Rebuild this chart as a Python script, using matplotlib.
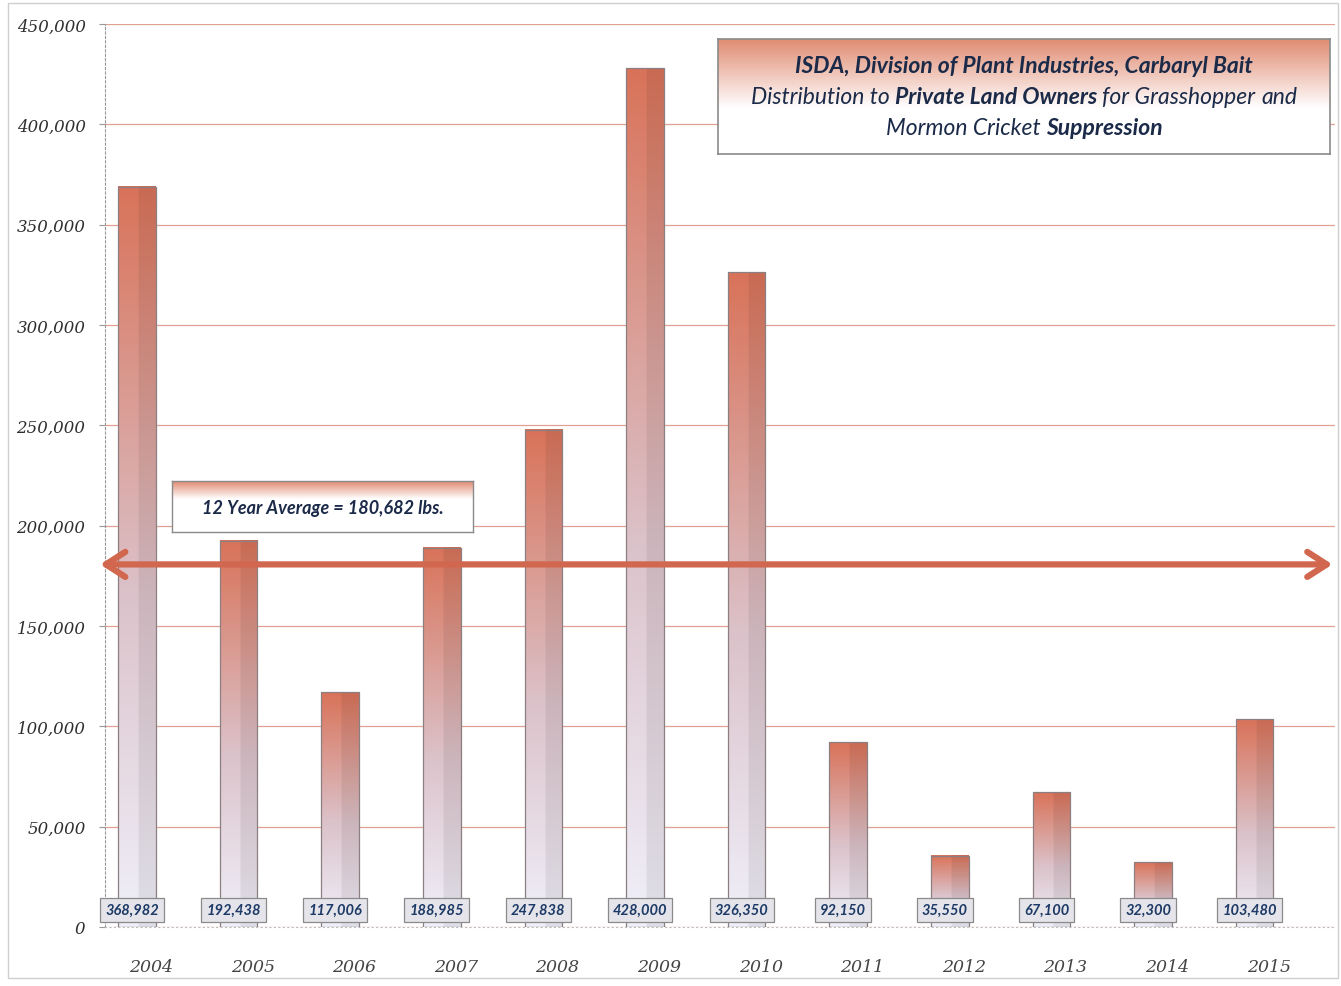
import matplotlib
matplotlib.use("Agg")
import matplotlib.pyplot as plt
import matplotlib.transforms as mtransforms
from matplotlib.patches import Rectangle
import numpy as np

years = ['2004', '2005', '2006', '2007', '2008', '2009',
         '2010', '2011', '2012', '2013', '2014', '2015']
pounds = [368982, 192438, 117006, 188985, 247838, 428000,
          326350, 92150, 35550, 67100, 32300, 103480]
average = 180682
yticks = [0, 50000, 100000, 150000, 200000, 250000, 300000, 350000, 400000, 450000]

# title lines as (text, bold) pieces
title_lines = [
    [('ISDA, Division of Plant Industries, Carbaryl Bait', True)],
    [('Distribution to ', False), ('Private Land Owners ', True),
     ('for Grasshopper ', False), ('and', False)],
    [('Mormon Cricket ', False), ('Suppression', True)],
]
avg_text = '12 Year Average = 180,682 lbs.'

salmon = np.array([0.85, 0.45, 0.35])
navy = '#1b2a48'


def bar_gradient(ny=200, nx=24):
    # vertical salmon -> lavender-white, right side a little darker
    bottom = np.array([0.94, 0.94, 0.98])
    mid = np.array([0.86, 0.76, 0.79])
    img = np.zeros((ny, nx, 3))
    for i, tv in enumerate(np.linspace(0, 1, ny)):
        if tv < 0.45:
            c = bottom + (mid - bottom) * (tv / 0.45)
        else:
            c = mid + (salmon - mid) * ((tv - 0.45) / 0.55)
        img[i, :, :] = c
    shade = np.ones(nx)
    shade[int(nx * 0.55):] = 0.93
    img = img * shade[None, :, None]
    return np.clip(img[::-1], 0, 1)   # row 0 at top


def box_gradient(ny=100, fade=0.6):
    t = np.linspace(0, 1, ny)[:, None]          # 0 top, 1 bottom
    white = np.array([1.0, 1.0, 1.0])
    top = np.array([0.88, 0.55, 0.45])
    img = top + (white - top) * np.clip(t / fade, 0, 1)
    return img[:, None, :].repeat(4, axis=1)


def rich_line(axh, y, pieces, **kw):
    # lay pieces out left to right, then centre the whole line
    r = fig.canvas.get_renderer()
    texts, widths = [], []
    for s, bold in pieces:
        t = axh.text(0, y, s, va='center', ha='left',
                     weight='bold' if bold else 'normal', **kw)
        texts.append(t)
        widths.append(t.get_window_extent(r).width)
    axw = axh.get_window_extent(r).width
    total = sum(widths) / axw
    xpos = 0.5 - total / 2
    for t, w in zip(texts, widths):
        t.set_x(xpos)
        xpos += w / axw


fig = plt.figure(figsize=(13.41, 9.87), dpi=100)
ax = fig.add_axes([0.0783, 0.0598, 0.9172, 0.9149])

x = np.arange(len(years))
width = 0.37
bars = ax.bar(x, pounds, width, color='none', edgecolor='#8c7f82', lw=0.9, zorder=3)
grad = bar_gradient()
for b in bars:
    ax.imshow(grad, extent=[b.get_x(), b.get_x() + b.get_width(), 0, b.get_height()],
              aspect='auto', zorder=2.5, interpolation='bilinear')

ax.set_xlim(-0.315, 11.79)
ax.set_ylim(0, 450000)

ax.set_yticks(yticks)
ax.set_yticklabels([f'{v:,}' for v in yticks], family='DejaVu Serif',
                   style='italic', fontsize=12, color='#2e2e2e')
ax.yaxis.grid(True, color='#e2a090', lw=0.9)
ax.set_axisbelow(True)
ax.tick_params(axis='y', length=4, color='#999999', pad=10)

ax.set_xticks(x)
ax.set_xticklabels(years, family='DejaVu Serif', style='italic',
                   fontsize=12.5, color='#444444')
ax.tick_params(axis='x', length=0, pad=22)
shift = mtransforms.ScaledTranslation(0.14, 0, fig.dpi_scale_trans)
for lab in ax.get_xticklabels():
    lab.set_transform(lab.get_transform() + shift)

for s in ['top', 'right']:
    ax.spines[s].set_visible(False)
ax.spines['left'].set_linestyle((0, (2, 2)))
ax.spines['left'].set_color('#999999')
ax.spines['bottom'].set_linestyle((0, (1, 3)))
ax.spines['bottom'].set_color('#bbbbbb')

# value labels at the base of each bar
for xi, v in zip(x, pounds):
    ax.text(xi - 0.05, 8500, f'{v:,}', ha='center', va='center',
            family='Lato', style='italic', weight='bold', fontsize=10.5,
            color='#1d3a66', zorder=6,
            bbox=dict(boxstyle='square,pad=0.35', facecolor='#e4e4ea',
                      edgecolor='#8a8a8a', lw=0.9))

# average arrow across the whole plot
ax.annotate('', xy=(0.998, average), xytext=(-0.004, average),
            xycoords=ax.get_yaxis_transform(), textcoords=ax.get_yaxis_transform(),
            arrowprops=dict(arrowstyle='<->,head_length=1.4,head_width=0.9',
                            color='#d2674f', lw=4.5, shrinkA=0, shrinkB=0),
            zorder=5, annotation_clip=False)

# average label box
bax = fig.add_axes([172 / 1341, 1 - 533 / 987, 301 / 1341, 51 / 987])
bax.imshow(box_gradient(fade=0.35), extent=[0, 1, 0, 1], aspect='auto')
bax.set_xlim(0, 1)
bax.set_ylim(0, 1)
bax.set_xticks([])
bax.set_yticks([])
for s in bax.spines.values():
    s.set_color('#8a8a8a')
    s.set_linewidth(1.0)
bax.text(0.5, 0.48, avg_text, ha='center', va='center', family='Lato',
         style='italic', weight='bold', fontsize=13, color=navy)

# title box
tax = fig.add_axes([718 / 1341, 1 - 155 / 987, 612 / 1341, 115 / 987])
tax.imshow(box_gradient(fade=0.6), extent=[0, 1, 0, 1], aspect='auto')
tax.set_xlim(0, 1)
tax.set_ylim(0, 1)
tax.set_xticks([])
tax.set_yticks([])
for s in tax.spines.values():
    s.set_color('#8a8a8a')
    s.set_linewidth(1.2)
for i, pieces in enumerate(title_lines):
    rich_line(tax, 0.77 - i * 0.27, pieces, family='Lato', style='italic',
              fontsize=16.5, color=navy)

# page frame
fig.patches.append(Rectangle((0.006, 0.008), 0.992, 0.988, transform=fig.transFigure,
                             fill=False, edgecolor='#cfcfcf', lw=1.0))

fig.savefig('out.png', dpi=100)
